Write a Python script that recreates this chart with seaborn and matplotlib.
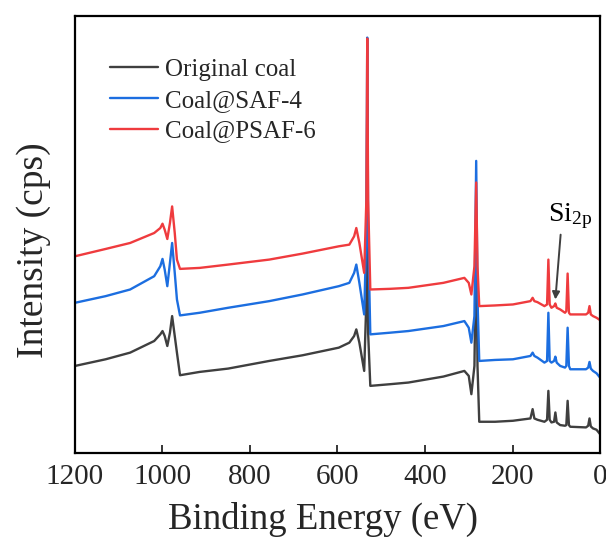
import matplotlib
matplotlib.use("Agg")
import matplotlib.pyplot as plt
import seaborn as sns
import pandas as pd

# Binding energy grid (eV)
energy = [1200, 1130, 1074, 1019, 1005, 1000, 995, 989, 983, 978,
          972, 967, 960, 915, 850, 756, 680, 597, 573, 562,
          557, 550, 539, 534, 532, 530, 525, 480, 438, 358,
          310, 300, 294, 287, 283, 280, 276, 240, 199, 159,
          154, 150, 143, 127, 121, 118, 115, 111, 105, 102,
          99, 91, 80, 77, 74, 71, 68, 32, 27, 24,
          21, 16, 8, 0]

original_coal = [262, 282, 302, 337, 357, 367, 352, 322, 362, 412,
                 352, 302, 234, 244, 254, 277, 294, 317, 332, 352,
                 372, 332, 247, 462, 1062, 362, 202, 207, 212, 230,
                 247, 232, 177, 262, 662, 262, 94, 94, 97, 104,
                 132, 104, 100, 94, 100, 187, 100, 92, 94, 122,
                 92, 84, 82, 84, 157, 84, 79, 77, 82, 104,
                 80, 74, 70, 57]

coal_saf4 = [452, 472, 492, 532, 562, 584, 552, 502, 572, 632,
             542, 462, 414, 422, 437, 457, 477, 502, 512, 542,
             567, 512, 417, 662, 1250, 662, 357, 362, 367, 382,
             397, 377, 332, 412, 879, 462, 277, 280, 282, 292,
             302, 292, 287, 272, 277, 422, 277, 272, 277, 290,
             272, 262, 257, 262, 377, 262, 252, 252, 257, 274,
             254, 247, 240, 227]

coal_psaf6 = [592, 614, 632, 662, 677, 690, 672, 644, 692, 742,
              662, 582, 554, 557, 567, 582, 600, 622, 627, 652,
              677, 632, 542, 762, 1247, 762, 492, 494, 497, 512,
              527, 512, 477, 562, 814, 562, 442, 444, 447, 457,
              467, 457, 454, 442, 447, 582, 447, 437, 442, 450,
              437, 432, 422, 427, 540, 422, 417, 417, 422, 442,
              417, 412, 407, 400]

series_names = ["Original coal", "Coal@SAF-4", "Coal@PSAF-6"]
colors = ["#3f3f3f", "#1c6ee0", "#ef3b3e"]
x_ticks = [1200, 1000, 800, 600, 400, 200, 0]

rows = []
for name, vals in zip(series_names, [original_coal, coal_saf4, coal_psaf6]):
    for e, v in zip(energy, vals):
        rows.append({"Binding Energy": e, "Intensity": v, "Sample": name})
df = pd.DataFrame(rows)

sns.set_style("white")
plt.rcParams["font.family"] = ["Liberation Serif", "DejaVu Serif"]
plt.rcParams["mathtext.fontset"] = "custom"
plt.rcParams["mathtext.rm"] = "Liberation Serif"
plt.rcParams["mathtext.it"] = "Liberation Serif"

fig = plt.figure(figsize=(6.06, 5.45), dpi=100)
ax = fig.add_axes([75/606, 1 - 453/545, 525/606, 437/545])

sns.lineplot(data=df, x="Binding Energy", y="Intensity", hue="Sample",
             hue_order=series_names, palette=colors, estimator=None,
             sort=False, linewidth=1.7, ax=ax)

ax.set_xlim(1200, 0)
ax.set_ylim(0, 1315)
ax.set_xticks(x_ticks)
ax.set_xticklabels([str(t) for t in x_ticks], fontsize=21)
ax.set_yticks([])
ax.tick_params(axis="x", direction="in", length=6, width=1.3, pad=8,
               bottom=True, top=False)
for s in ax.spines.values():
    s.set_linewidth(1.6)
    s.set_color("black")

ax.set_xlabel("Binding Energy (eV)", fontsize=26.5)
ax.xaxis.set_label_coords(0.472, -0.112)
ax.set_ylabel("Intensity (cps)", fontsize=27)
ax.yaxis.set_label_coords(-0.045, 0.465)

leg = ax.legend(loc="upper left", bbox_to_anchor=(0.067, 0.903), frameon=False,
                fontsize=18, handlelength=1.9, handletextpad=0.3,
                labelspacing=0.33, borderaxespad=0, borderpad=0)
for line in leg.get_lines():
    line.set_linewidth(1.7)

ax.annotate("", xy=(102, 462), xytext=(90, 657),
            arrowprops=dict(arrowstyle="-|>", color="#3f3f3f", lw=1.4,
                            mutation_scale=11, shrinkA=0, shrinkB=0))
ax.text(119, 697, "Si$_{2p}$", fontsize=20, ha="left", va="baseline",
        color="black")

fig.savefig("out.png", dpi=100)
